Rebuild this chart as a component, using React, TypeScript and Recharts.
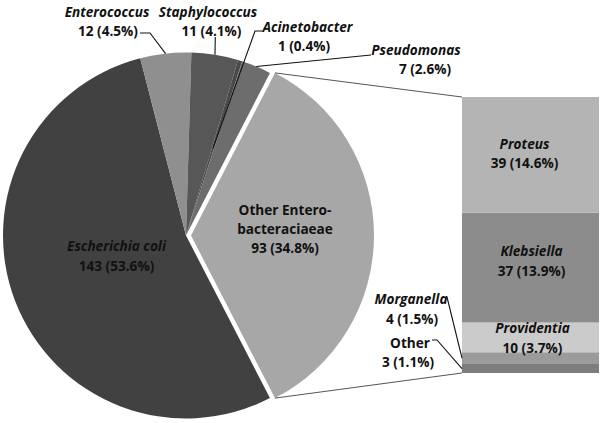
import React from 'react';
import { PieChart, Pie, Cell, BarChart, Bar, XAxis, YAxis } from 'recharts';

// ---------- data ----------
const pieNames = ['Escherichia coli', 'Enterococcus', 'Staphylococcus', 'Acinetobacter', 'Pseudomonas', 'Other Entero-bacteraciaeae'];
const pieValues = [143, 12, 11, 1, 7, 93];
const piePercents = ['53.6%', '4.5%', '4.1%', '0.4%', '2.6%', '34.8%'];

const barNames = ['Other', 'Morganella', 'Providentia', 'Klebsiella', 'Proteus'];
const barValues = [3, 4, 10, 37, 39];
const barPercents = ['1.1%', '1.5%', '3.7%', '13.9%', '14.6%'];

// ---------- styles / layout ----------
const pieColors = ['#414141', '#8f8f8f', '#575757', '#4a4a4a', '#6d6d6d', '#a7a7a7'];
const barColors = ['#7d7d7d', '#9b9b9b', '#cbcbcb', '#8c8c8c', '#b4b4b4'];
const pieItalic = [true, true, true, true, true, false];
const barItalic = [false, true, true, true, true];

const W = 600;
const H = 423;
const PIE_CX = 186;
const PIE_CY = 235.5;
const PIE_R = 183;
const EXPLODE = 5;
const START = -62.7;
const OTHER_IDX = 5;
const BAR_LEFT = 462;
const BAR_TOP = 97;
const BAR_BOTTOM = 373;
const BAR_RIGHT = 599;
const FONT = '"Open Sans", Lato, sans-serif';
const FS = 13.6;
const LH = 19.5;
const TEXT = '#111';

type Pt = [number, number];
const pieLayout: Array<{ nx: number; ny: number; vx: number; vy: number; lead?: Pt[]; r?: number }> = [
  { nx: 116.5, ny: 245, vx: 116.5, vy: 265 },
  { nx: 107, ny: 11, vx: 108, vy: 30, lead: [[140, 33], [150, 33]], r: 1 },
  { nx: 208, ny: 11, vx: 211.5, vy: 30, lead: [[215.3, 37]], r: 1 },
  { nx: 307.5, ny: 26, vx: 304, vy: 45, lead: [[262, 31], [255, 31]], r: 0.5 },
  { nx: 416, ny: 49, vx: 425, vy: 68, lead: [[371, 55]], r: 1 },
  { nx: 285, ny: 209, vx: 285, vy: 247 },
];
const barLayout: Array<{ out: boolean; nx?: number; ny?: number; vx?: number; vy?: number; lead?: Pt[]; dx?: number; dy?: number }> = [
  { out: true, nx: 410, ny: 342, vx: 408, vy: 361, lead: [[432, 340], [437, 340]] },
  { out: true, nx: 411, ny: 298, vx: 412, vy: 318, lead: [[447, 297]] },
  { out: false, dx: 2, dy: 0 },
  { out: false, dx: 1, dy: -7 },
  { out: false, dx: -6, dy: -2 },
];

// ---------- derived tables ----------
const pieData = pieNames.map((name, i) => ({ name, value: pieValues[i] }));
const barRow: Record<string, any> = { cat: 'Other Enterobacteraciaeae' };
barNames.forEach((n, i) => { barRow[n] = barValues[i]; });
const barData = [barRow];
const barTotal = barValues.reduce((a, b) => a + b, 0);

const RAD = Math.PI / 180;
const polar = (cx: number, cy: number, r: number, a: number): Pt => [cx + r * Math.cos(-a * RAD), cy + r * Math.sin(-a * RAD)];

const Txt = ({ x, y, italic, children }: any) => (
  <text x={x} y={y} textAnchor="middle" dominantBaseline="central" fontFamily={FONT} fontSize={FS}
    fontWeight={700} fontStyle={italic ? 'italic' : 'normal'} fill={TEXT}>{children}</text>
);

const ptsStr = (pts: Pt[]) => pts.map(p => `${p[0]},${p[1]}`).join(' ');

const renderPieLabel = (p: any) => {
  const i = p.index;
  const L = pieLayout[i];
  if (!L || i === OTHER_IDX) return <g />;
  let line = null;
  if (L.lead) {
    const end = polar(p.cx, p.cy, p.outerRadius * (L.r ?? 1), p.midAngle);
    line = <polyline points={ptsStr([...L.lead, end])} fill="none" stroke="#111" strokeWidth={1.1} />;
  }
  return (
    <g>
      {line}
      <Txt x={L.nx} y={L.ny} italic={pieItalic[i]}>{pieNames[i]}</Txt>
      <Txt x={L.vx} y={L.vy}>{`${pieValues[i]} (${piePercents[i]})`}</Txt>
    </g>
  );
};

const renderExplodedLabel = (p: any) => {
  const i = p.index;
  if (i !== OTHER_IDX) return <g />;
  const L = pieLayout[i];
  const a = polar(p.cx, p.cy, p.outerRadius, p.startAngle);
  const b = polar(p.cx, p.cy, p.outerRadius, p.endAngle);
  const top = a[1] < b[1] ? a : b;
  const bot = a[1] < b[1] ? b : a;
  const dash = pieNames[i].indexOf('-');
  const l1 = pieNames[i].slice(0, dash + 1);
  const l2 = pieNames[i].slice(dash + 1);
  return (
    <g>
      <line x1={top[0]} y1={top[1]} x2={BAR_LEFT} y2={BAR_TOP} stroke="#555" strokeWidth={1} />
      <line x1={bot[0]} y1={bot[1]} x2={BAR_LEFT} y2={BAR_BOTTOM} stroke="#555" strokeWidth={1} />
      <Txt x={L.nx} y={L.ny} italic={pieItalic[i]}>{l1}</Txt>
      <Txt x={L.nx} y={L.ny + LH}>{l2}</Txt>
      <Txt x={L.vx} y={L.vy}>{`${pieValues[i]} (${piePercents[i]})`}</Txt>
    </g>
  );
};

const makeBarLabel = (s: number) => (p: any) => {
  const L = barLayout[s];
  const x = p.x, y = p.y, w = p.width, h = p.height;
  const name = barNames[s];
  const val = `${barValues[s]} (${barPercents[s]})`;
  if (L.out) {
    const end: Pt = [x, y + h / 2];
    return (
      <g>
        <polyline points={ptsStr([...(L.lead as Pt[]), end])} fill="none" stroke="#111" strokeWidth={1.1} />
        <Txt x={L.nx} y={L.ny} italic={barItalic[s]}>{name}</Txt>
        <Txt x={L.vx} y={L.vy}>{val}</Txt>
      </g>
    );
  }
  const cx = x + w / 2 + (L.dx ?? 0);
  const cy = y + h / 2 + (L.dy ?? 0);
  return (
    <g>
      <Txt x={cx} y={cy - LH / 2} italic={barItalic[s]}>{name}</Txt>
      <Txt x={cx} y={cy + LH / 2}>{val}</Txt>
    </g>
  );
};

export default function App() {
  return (
    <div style={{ position: 'absolute', left: 0, top: 0, width: W, height: H, background: '#fff' }}>
      <div style={{ position: 'absolute', left: 0, top: 0 }}>
        <PieChart width={W} height={H} margin={{ top: 0, right: 0, bottom: 0, left: 0 }}>
          <Pie data={pieData} dataKey="value" nameKey="name" cx={PIE_CX} cy={PIE_CY} outerRadius={PIE_R}
            startAngle={START} endAngle={START - 360} stroke="none" isAnimationActive={false}
            label={renderPieLabel} labelLine={false}>
            {pieData.map((d, i) => (
              <Cell key={d.name} fill={i === OTHER_IDX ? 'none' : pieColors[i]} stroke="none" />
            ))}
          </Pie>
          <Pie data={pieData} dataKey="value" nameKey="name" cx={PIE_CX + EXPLODE} cy={PIE_CY} outerRadius={PIE_R}
            startAngle={START} endAngle={START - 360} stroke="none" isAnimationActive={false}
            label={renderExplodedLabel} labelLine={false}>
            {pieData.map((d, i) => (
              <Cell key={d.name} fill={i === OTHER_IDX ? pieColors[i] : 'none'} stroke="none" />
            ))}
          </Pie>
        </PieChart>
      </div>
      <div style={{ position: 'absolute', left: 0, top: 0 }}>
        <BarChart width={W} height={H} data={barData} barCategoryGap={0} barGap={0}
          margin={{ top: BAR_TOP, bottom: H - BAR_BOTTOM, left: BAR_LEFT, right: W - BAR_RIGHT }}>
          <XAxis dataKey="cat" hide />
          <YAxis hide domain={[0, barTotal]} />
          {barNames.map((n, s) => (
            <Bar key={n} dataKey={n} stackId="a" fill={barColors[s]} isAnimationActive={false}
              label={makeBarLabel(s)} />
          ))}
        </BarChart>
      </div>
    </div>
  );
}
